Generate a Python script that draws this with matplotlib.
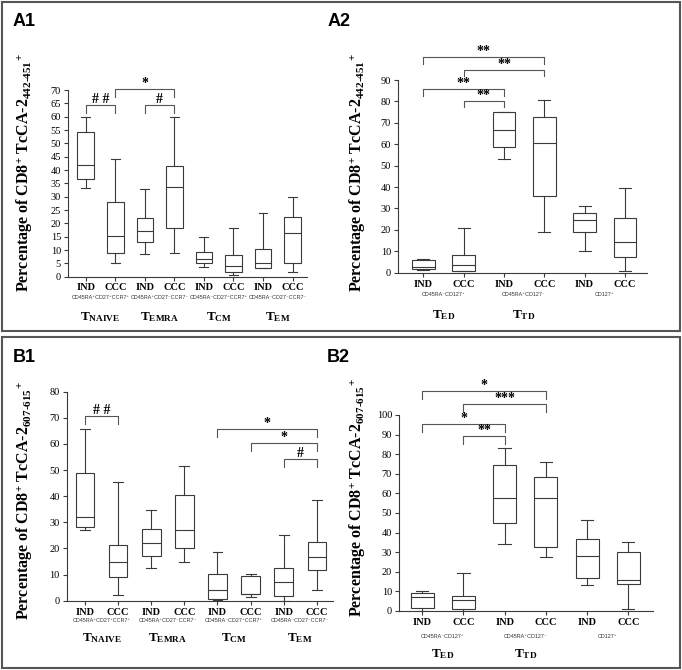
import matplotlib
matplotlib.use('Agg')
import matplotlib.pyplot as plt
from matplotlib.patches import Rectangle

plt.rcParams['font.family'] = 'Liberation Serif'
plt.rcParams['mathtext.fontset'] = 'custom'
plt.rcParams['mathtext.rm'] = 'Liberation Serif:bold'
plt.rcParams['mathtext.it'] = 'Liberation Serif:bold'
plt.rcParams['mathtext.bf'] = 'Liberation Serif:bold'

LINE = '#3a3a3a'
W, H = 682, 670

groups = ['IND', 'CCC']

# ---- A1: TcCA-2 442-451, memory subsets
a1_low = [33.1, 5.0, 8.5, 8.75, 3.5, 0.6, 3.1, 1.75]
a1_q1 = [36.5, 9.0, 13.1, 18.25, 5.0, 1.6, 3.1, 5.0]
a1_med = [41.9, 15.2, 17.2, 33.7, 6.5, 4.1, 5.2, 16.2]
a1_q3 = [54.2, 27.9, 21.9, 41.5, 9.4, 8.1, 10.4, 22.2]
a1_high = [59.7, 44.0, 32.7, 59.7, 15.0, 18.1, 23.7, 29.7]
a1_sig = [(1, 2, 64.4, '# #'), (3, 4, 64.4, '#'), (2, 4, 70.25, '*')]

# ---- A2: TcCA-2 442-451, effector subsets
a2_low = [1.2, 0.8, 53.3, 19.2, 10.3, 0.9]
a2_q1 = [1.9, 0.8, 58.9, 35.8, 18.8, 7.2]
a2_med = [2.8, 3.4, 66.7, 60.4, 24.8, 14.3]
a2_q3 = [6.1, 8.1, 74.9, 72.6, 27.7, 25.4]
a2_high = [6.4, 20.7, 75.2, 80.5, 31.2, 39.4]
a2_sig = [(1, 4, 100.6, '**'), (2, 4, 94.7, '**'), (1, 3, 85.7, '**'), (2, 3, 80.2, '**')]

# ---- B1: TcCA-2 607-615, memory subsets
b1_low = [27.0, 2.2, 12.5, 14.7, 0.25, 1.3, 0.0, 4.1]
b1_q1 = [28.1, 9.2, 17.3, 20.0, 0.6, 2.4, 1.7, 11.6]
b1_med = [32.1, 14.7, 21.9, 27.2, 4.2, 2.7, 7.0, 16.8]
b1_q3 = [48.7, 21.3, 27.4, 40.4, 10.1, 9.6, 12.6, 22.6]
b1_high = [65.8, 45.5, 34.6, 51.4, 18.5, 10.1, 25.0, 38.5]
b1_sig = [(1, 2, 70.8, '# #'), (5, 8, 65.6, '*'), (6, 8, 60.2, '*'), (7, 8, 54.1, '#')]

# ---- B2: TcCA-2 607-615, effector subsets
b2_low = [0.0, 0.0, 34.4, 27.6, 13.5, 1.0]
b2_q1 = [1.7, 1.0, 45.1, 32.4, 17.0, 14.0]
b2_med = [7.3, 5.4, 57.4, 57.4, 28.3, 15.8]
b2_q3 = [9.4, 7.7, 74.3, 68.3, 36.5, 30.3]
b2_high = [10.4, 19.2, 83.0, 76.1, 46.5, 35.1]
b2_sig = [(1, 4, 112.3, '*'), (2, 4, 105.5, '***'), (1, 3, 95.2, '*'), (2, 3, 89.1, '**')]

memory_markers = ['CD45RA⁺CD27⁺CCR7⁺', 'CD45RA⁺CD27⁻CCR7⁻',
                  'CD45RA⁻CD27⁺CCR7⁺', 'CD45RA⁻CD27⁻CCR7⁻']
memory_subsets = [r'T$_{\mathrm{NAIVE}}$', r'T$_{\mathrm{EMRA}}$',
                  r'T$_{\mathrm{CM}}$', r'T$_{\mathrm{EM}}$']
effector_markers = ['CD45RA⁻CD127⁺', 'CD45RA⁺CD127⁻', 'CD127⁺']
effector_subsets = [r'T$_{\mathrm{ED}}$', r'T$_{\mathrm{TD}}$', '']

ylab_442 = r'Percentage of CD8$^{+}$ TcCA-2$_{\text{442-451}}$$^{+}$'
ylab_607 = r'Percentage of CD8$^{+}$ TcCA-2$_{\text{607-615}}$$^{+}$'

fig = plt.figure(figsize=(W / 100, H / 100), dpi=100)


def px_axes(left, top, right, bottom):
    return fig.add_axes([left / W, 1 - bottom / H, (right - left) / W, (bottom - top) / H])


def draw_panel(ax, low, q1, med, q3, high, yticks, xlim, sig, drop,
               markers, subsets, ylabel, lab_xy, offs):
    pos = list(range(1, len(med) + 1))
    stats = [dict(med=m, q1=a, q3=b, whislo=lo, whishi=hi, fliers=[])
             for lo, a, m, b, hi in zip(low, q1, med, q3, high)]
    ax.bxp(stats, positions=pos, widths=0.56, capwidths=0.3, showfliers=False,
           patch_artist=True,
           boxprops=dict(facecolor='white', edgecolor=LINE, linewidth=0.8),
           medianprops=dict(color=LINE, linewidth=0.8),
           whiskerprops=dict(color=LINE, linewidth=0.8),
           capprops=dict(color=LINE, linewidth=0.8))
    ax.set_xlim(*xlim)
    ax.set_ylim(0, yticks[-1])
    ax.set_yticks(yticks)
    ax.set_xticks(pos)
    ax.set_xticklabels(groups * (len(pos) // 2), fontweight='bold', fontsize=7.5)
    for s in ['top', 'right']:
        ax.spines[s].set_visible(False)
    for s in ['left', 'bottom']:
        ax.spines[s].set_color(LINE)
        ax.spines[s].set_linewidth(0.8)
    ax.tick_params(axis='y', length=3, width=0.8, color=LINE, labelsize=7.5, pad=2)
    ax.tick_params(axis='x', length=3, width=0.8, color=LINE, pad=offs[0] - 8)
    ax.set_ylabel(ylabel, fontsize=11.5, fontweight='bold')
    ax.yaxis.set_label_coords(*lab_xy)

    tr = ax.get_xaxis_transform()
    for i, (mk, sub) in enumerate(zip(markers, subsets)):
        x = 1.5 + 2 * i
        ax.annotate(mk, xy=(x, 0), xycoords=tr, xytext=(0, -offs[1]),
                    textcoords='offset pixels', ha='center', va='center',
                    fontsize=3.9, family=['Liberation Sans', 'DejaVu Sans'],
                    color='#333333')
        if sub:
            ax.annotate(sub, xy=(x, 0), xycoords=tr, xytext=(0, -offs[2]),
                        textcoords='offset pixels', ha='center', va='center',
                        fontsize=9.5, fontweight='bold')

    for x1, x2, y, lab in sig:
        ax.plot([x1, x1, x2, x2], [y - drop, y, y, y - drop], color='#555555',
                linewidth=0.8, clip_on=False)
        ax.annotate(lab, xy=((x1 + x2) / 2, y), xytext=(0, -1),
                    textcoords='offset pixels', ha='center', va='bottom',
                    fontsize=10, fontweight='bold', annotation_clip=False)


ax_a1 = px_axes(68, 90, 307, 276.7)
draw_panel(ax_a1, a1_low, a1_q1, a1_med, a1_q3, a1_high, list(range(0, 71, 5)),
           (0.4, 8.49), a1_sig, 3, memory_markers, memory_subsets, ylab_442,
           (-0.138, 0.556), (9.5, 21, 40))

ax_a2 = px_axes(398, 80, 647, 272.7)
draw_panel(ax_a2, a2_low, a2_q1, a2_med, a2_q3, a2_high, list(range(0, 91, 10)),
           (0.37, 6.55), a2_sig, 3, effector_markers, effector_subsets, ylab_442,
           (-0.12, 0.52), (10, 22, 42))

ax_b1 = px_axes(66.7, 391.7, 333, 600.7)
draw_panel(ax_b1, b1_low, b1_q1, b1_med, b1_q3, b1_high, list(range(0, 81, 10)),
           (0.445, 8.49), b1_sig, 3, memory_markers, memory_subsets, ylab_607,
           (-0.119, 0.48), (10.5, 20, 37))

ax_b2 = px_axes(399, 415, 653, 611)
draw_panel(ax_b2, b2_low, b2_q1, b2_med, b2_q3, b2_high, list(range(0, 101, 10)),
           (0.435, 6.6), b2_sig, 4, effector_markers, effector_subsets, ylab_607,
           (-0.122, 0.58), (10, 26, 43))

# panel frames and letters
for top, bot in [(1.5, 331), (337, 668)]:
    fig.add_artist(Rectangle((1.5 / W, 1 - bot / H), 678.5 / W, (bot - top) / H,
                             transform=fig.transFigure, fill=False,
                             edgecolor='#555555', linewidth=1.5))
for lab, x, y in [('A1', 13, 21), ('A2', 328, 21), ('B1', 13, 358), ('B2', 327, 358)]:
    fig.text(x / W, 1 - y / H, lab, fontsize=13, fontweight='bold',
             family='Liberation Sans', va='center', ha='left')

fig.savefig('out.png', dpi=100)
